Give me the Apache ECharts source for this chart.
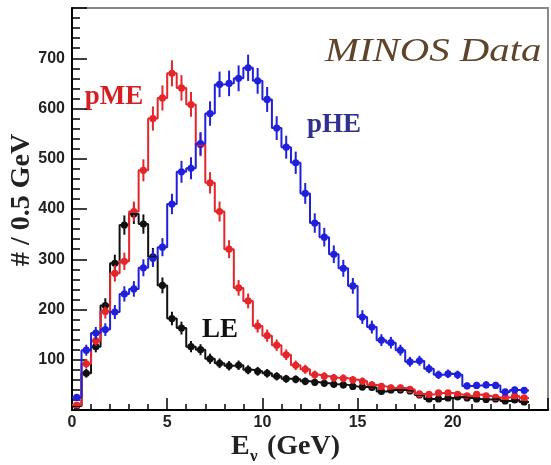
<!DOCTYPE html>
<html>
<head>
<meta charset="utf-8">
<script src="https://cdn.jsdelivr.net/npm/echarts@6/dist/echarts.min.js"></script>
<style>
html, body { margin: 0; padding: 0; background: #fff; }
#chart { width: 551px; height: 465px; }
</style>
</head>
<body>
<div id="chart"></div>
<script>
// bin width of the histograms, GeV
var binWidth = 0.5;

// counts per 0.5 GeV bin, starting at 0 GeV
var leData = [8, 73, 126, 208, 292, 368, 390, 370, 305, 248, 182, 163, 126, 120, 102, 93,
  88, 89, 80, 77, 73, 67, 62, 61, 57, 55, 53, 51, 50, 47, 46, 45,
  37, 40, 40, 38, 30, 22, 22, 24, 26, 24, 22, 21, 22, 18, 20, 16];
var pmeData = [10, 92, 138, 196, 272, 296, 395, 477, 580, 621, 670, 641, 608, 528, 452, 395,
  320, 243, 217, 167, 148, 129, 110, 89, 81, 70, 67, 64, 63, 60, 57, 50,
  47, 44, 44, 41, 32, 31, 34, 34, 31, 28, 31, 28, 25, 25, 28, 24];
var pheData = [25, 119, 153, 160, 195, 231, 241, 283, 302, 324, 410, 474, 481, 530, 590, 648,
  650, 660, 681, 655, 618, 561, 523, 492, 431, 372, 344, 310, 282, 247, 185, 165,
  139, 134, 119, 96, 98, 82, 70, 72, 70, 48, 49, 50, 49, 36, 40, 39];

var xTickLabels = [0, 5, 10, 15, 20];
var yTickLabels = [100, 200, 300, 400, 500, 600, 700];

var colors = { le: '#111111', pme: '#e5262a', phe: '#2020dc' };

function stepPoints(vals) {
  var pts = vals.map(function (v, i) { return [i * binWidth, v]; });
  pts.push([vals.length * binWidth, vals[vals.length - 1]]);
  return pts;
}

// bin centre, count, poisson error
function markPoints(vals) {
  return vals.map(function (v, i) { return [(i + 0.5) * binWidth, v, Math.sqrt(v)]; });
}

function renderPoint(params, api) {
  var x = api.value(0), y = api.value(1), e = api.value(2);
  var c = api.coord([x, y]);
  var hi = api.coord([x, y + e]);
  var lo = api.coord([x, Math.max(0, y - e)]);
  var col = api.visual('color');
  return {
    type: 'group',
    children: [
      { type: 'line', shape: { x1: c[0], y1: hi[1], x2: c[0], y2: lo[1] }, style: { stroke: col, lineWidth: 2 } },
      { type: 'circle', shape: { cx: c[0], cy: c[1], r: 3.6 }, style: { fill: col } }
    ]
  };
}

function histSeries(name, vals, color) {
  return [{
    name: name,
    type: 'line',
    step: 'end',
    data: stepPoints(vals),
    showSymbol: false,
    lineStyle: { color: color, width: 2 },
    itemStyle: { color: color },
    silent: true
  }, {
    name: name + ' pts',
    type: 'custom',
    data: markPoints(vals),
    encode: { x: 0, y: 1 },
    renderItem: renderPoint,
    itemStyle: { color: color },
    silent: true
  }];
}

var chart = echarts.init(document.getElementById('chart'));

var tickLine = { color: '#000', width: 1.5 };
var labelFont = { fontFamily: 'Liberation Sans', fontWeight: 'bold', fontSize: 16, color: '#222' };

var option = {
  animation: false,
  backgroundColor: '#fff',
  grid: { left: 72, right: -20, top: 8, bottom: 55, show: true, borderColor: '#8a8a8a', borderWidth: 2 },
  xAxis: {
    type: 'value', min: 0, max: 25, interval: 5,
    axisLine: { show: true, lineStyle: { color: '#000', width: 2 } },
    axisTick: { show: true, inside: true, length: 12, lineStyle: tickLine },
    minorTick: { show: true, splitNumber: 5, length: 6, lineStyle: tickLine },
    splitLine: { show: false },
    axisLabel: Object.assign({
      margin: 5,
      formatter: function (v) { return xTickLabels.indexOf(v) >= 0 ? String(v) : ''; }
    }, labelFont)
  },
  yAxis: {
    type: 'value', min: 0, max: 800, interval: 100,
    axisLine: { show: true, lineStyle: { color: '#000', width: 2 } },
    axisTick: { show: true, inside: true, length: 15, lineStyle: tickLine },
    minorTick: { show: true, splitNumber: 5, length: 8, lineStyle: tickLine },
    splitLine: { show: false },
    axisLabel: Object.assign({
      margin: 7,
      formatter: function (v) { return yTickLabels.indexOf(v) >= 0 ? String(v) : ''; }
    }, labelFont)
  },
  series: [].concat(
    histSeries('LE', leData, colors.le),
    histSeries('pME', pmeData, colors.pme),
    histSeries('pHE', pheData, colors.phe)
  ),
  graphic: [
    { type: 'text', x: 114, y: 97, silent: true,
      style: { text: 'pME', fill: '#d61f22', font: 'bold 27px "Liberation Serif"', align: 'center', verticalAlign: 'middle' } },
    { type: 'text', x: 334, y: 125, silent: true,
      style: { text: 'pHE', fill: '#30308f', font: 'bold 27px "Liberation Serif"', align: 'center', verticalAlign: 'middle' } },
    { type: 'text', x: 220, y: 330, silent: true,
      style: { text: 'LE', fill: '#111', font: 'bold 27px "Liberation Serif"', align: 'center', verticalAlign: 'middle' } },
    { type: 'text', x: 325, y: 52, scaleX: 1.2, silent: true,
      style: { text: 'MINOS Data', fill: '#5e4428', font: 'italic 34px "Liberation Serif"', align: 'left', verticalAlign: 'middle' } },
    { type: 'text', x: 22, y: 200, rotation: Math.PI / 2, silent: true,
      style: { text: '# / 0.5 GeV', fill: '#222', font: 'bold 28px "Liberation Serif"', align: 'center', verticalAlign: 'middle' } },
    { type: 'text', x: 231, y: 447, silent: true,
      style: { text: 'E', fill: '#222', font: 'bold 28px "Liberation Serif"', align: 'left', verticalAlign: 'middle' } },
    { type: 'text', x: 250, y: 457, silent: true,
      style: { text: 'ν', fill: '#222', font: 'bold 17px "Liberation Serif"', align: 'left', verticalAlign: 'middle' } },
    { type: 'text', x: 267, y: 447, silent: true,
      style: { text: '(GeV)', fill: '#222', font: 'bold 28px "Liberation Serif"', align: 'left', verticalAlign: 'middle' } }
  ]
};

chart.setOption(option);
</script>
</body>
</html>
